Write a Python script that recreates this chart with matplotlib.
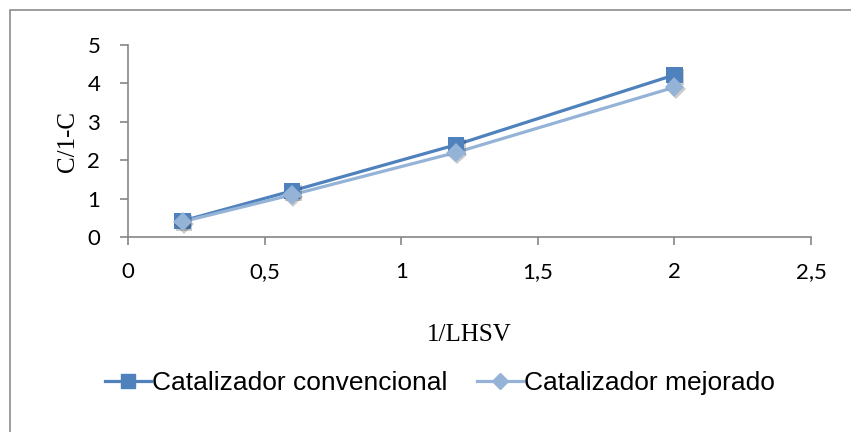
import matplotlib.pyplot as plt
import matplotlib.patheffects as pe
from matplotlib.lines import Line2D
from matplotlib.patches import Rectangle
from matplotlib.ticker import FuncFormatter

# Data
lhsv_inv = [0.2, 0.6, 1.2, 2.0]
conv = [0.42, 1.2, 2.4, 4.22]
mejor = [0.4, 1.1, 2.2, 3.9]
x_ticks = [0, 0.5, 1, 1.5, 2, 2.5]
y_ticks = [0, 1, 2, 3, 4, 5]

c_conv = "#4F81BD"
c_mejor = "#95B3D7"
grey = "#868686"

fig = plt.figure(figsize=(8.51, 4.32), dpi=100)

# outer chart frame
fig.patches.append(Rectangle((10 / 851, -0.1), 1.0, 1.1 - 10 / 432,
                             transform=fig.transFigure, fill=False,
                             edgecolor="#8c8c8c", linewidth=1.2))

ax = fig.add_axes([128 / 851, (432 - 237) / 432, 683 / 851, 192 / 432])

shadow = [pe.SimplePatchShadow(offset=(1, -1.5), shadow_rgbFace="black", alpha=0.2),
          pe.Normal()]

ax.plot(lhsv_inv, conv, color=c_conv, linewidth=2.3, zorder=3)
ax.plot(lhsv_inv, mejor, color=c_mejor, linewidth=2.3, zorder=3)
ax.plot(lhsv_inv, conv, linestyle="none", marker="s", markersize=12,
        color=c_conv, markeredgewidth=0, zorder=4, path_effects=shadow)
ax.plot(lhsv_inv, mejor, linestyle="none", marker="D", markersize=10,
        color=c_mejor, markeredgewidth=0, zorder=5, path_effects=shadow)

ax.set_xlim(0, 2.5)
ax.set_ylim(0, 5)
ax.set_xticks(x_ticks)
ax.set_yticks(y_ticks)
ax.xaxis.set_major_formatter(FuncFormatter(lambda v, p: f"{v:g}".replace(".", ",")))

for s in ["top", "right"]:
    ax.spines[s].set_visible(False)
for s in ["left", "bottom"]:
    ax.spines[s].set_color(grey)
    ax.spines[s].set_linewidth(1.2)
ax.tick_params(direction="out", length=6, width=1.2, color=grey,
               labelsize=16, labelcolor="black")
ax.tick_params(axis="x", pad=12)
ax.tick_params(axis="y", pad=14)
for lab in ax.get_xticklabels() + ax.get_yticklabels():
    lab.set_family("Lato")

ax.set_xlabel("1/LHSV", family="Liberation Serif", fontsize=18, labelpad=30)
ax.set_ylabel("C/1-C", family="Liberation Serif", fontsize=18, labelpad=6)

handles = [
    Line2D([], [], color=c_conv, linewidth=2.3, marker="s", markersize=10),
    Line2D([], [], color=c_mejor, linewidth=2.3, marker="D", markersize=8),
]
fig.legend(handles, ["Catalizador convencional", "Catalizador mejorado"],
           loc="center", bbox_to_anchor=(440 / 851, (432 - 383) / 432), ncol=2,
           frameon=False, prop={"family": "Liberation Sans", "size": 19},
           handlelength=1.75, handletextpad=0.05, columnspacing=1.1)

fig.savefig("out.png", dpi=100)
